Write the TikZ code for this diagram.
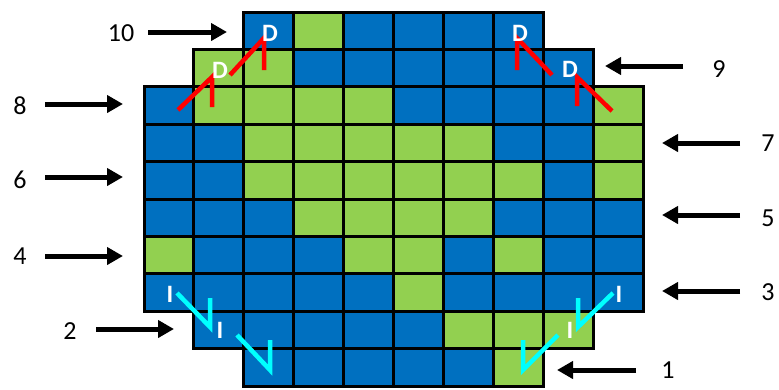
\documentclass[tikz,border=0pt]{standalone}
\usepackage{fontspec}
\setmainfont{Carlito}
\usetikzlibrary{arrows.meta}
\definecolor{cellb}{HTML}{0070C0}
\definecolor{cellg}{HTML}{92D050}
\definecolor{dmark}{HTML}{FF0000}
\definecolor{imark}{HTML}{00FFFF}

\begin{document}
\begin{tikzpicture}[x=1pt,y=-1pt,
  cell/.style={draw=black,line width=3pt},
  rowarrow/.style={line width=5pt,-{Triangle[length=16pt,width=17pt]}},
  rownum/.style={font=\fontsize{26}{30}\selectfont,inner sep=0pt},
  letterlab/.style={text=white,font=\fontsize{25}{28}\selectfont\bfseries,inner sep=0pt},
  dline/.style={draw=dmark,line width=4.5pt,line join=miter},
  iline/.style={draw=imark,line width=4.5pt,line join=miter}]
\useasboundingbox (0,0) rectangle (779,389);

% cells: row / first column / colours
\foreach \r/\s/\cols in {0/2/{b,g,b,b,b,b},
                          1/1/{g,g,b,b,b,b,b,b},
                          2/0/{b,g,g,g,g,b,b,b,b,g},
                          3/0/{b,b,g,g,g,g,g,b,b,g},
                          4/0/{b,b,g,g,g,g,g,g,b,g},
                          5/0/{b,b,b,g,g,g,g,b,b,b},
                          6/0/{g,b,b,b,g,g,b,g,b,b},
                          7/0/{b,b,b,b,b,g,b,b,b,b},
                          8/1/{b,b,b,b,b,g,g,g},
                          9/2/{b,b,b,b,b,g}}{
  \foreach \c [count=\i from \s] in \cols
    \filldraw[cell,fill=cell\c] ({144+49.9*\i},{12+37.4*\r}) rectangle ++(49.9,37.4);
}

% row numbers and arrows: number / label x / label y / tail x / tip x / arrow y
\foreach \n/\lx/\ly/\xa/\xb/\y in {10/121/33/148/227/32,
                                    8/20/106/45/123/104,
                                    6/20/180/45/123/177,
                                    4/20/256/45/123/256,
                                    2/70/331/96/174/329,
                                    9/719/69/683/605/66,
                                    7/768/143/740/662/143,
                                    5/768/218/740/662/215,
                                    3/768/292/740/662/291,
                                    1/668/370/636/557/370}{
  \node[rownum] (num\n) at (\lx,\ly) {\n};
  \coordinate (tail\n) at (\xa,\y);
  \coordinate (tip\n) at (\xb,\y);
  \draw[rowarrow] (tail\n) -- (tip\n);
}

% D marks
\draw[dline] (178,110) -- (212,77) -- (212,107);
\draw[dline] (230,75) -- (264,38) -- (264,70);
\draw[dline] (517,70) -- (517,38) -- (552,75);
\draw[dline] (577,106) -- (577,77) -- (612,111);
\node[letterlab] (d1) at (220,70) {D};
\node[letterlab] (d2) at (270,33) {D};
\node[letterlab] (d3) at (520,33) {D};
\node[letterlab] (d4) at (570,69) {D};

% I marks
\draw[iline] (177,293) -- (210,327) -- (210,298);
\draw[iline] (237,335) -- (270,370) -- (270,340);
\draw[iline] (613,293) -- (578,327) -- (578,298);
\draw[iline] (558,335) -- (523,370) -- (523,340);
\node[letterlab] (i1) at (170,294) {I};
\node[letterlab] (i2) at (220,330) {I};
\node[letterlab] (i3) at (619,294) {I};
\node[letterlab] (i4) at (570,330) {I};
\end{tikzpicture}
\end{document}
